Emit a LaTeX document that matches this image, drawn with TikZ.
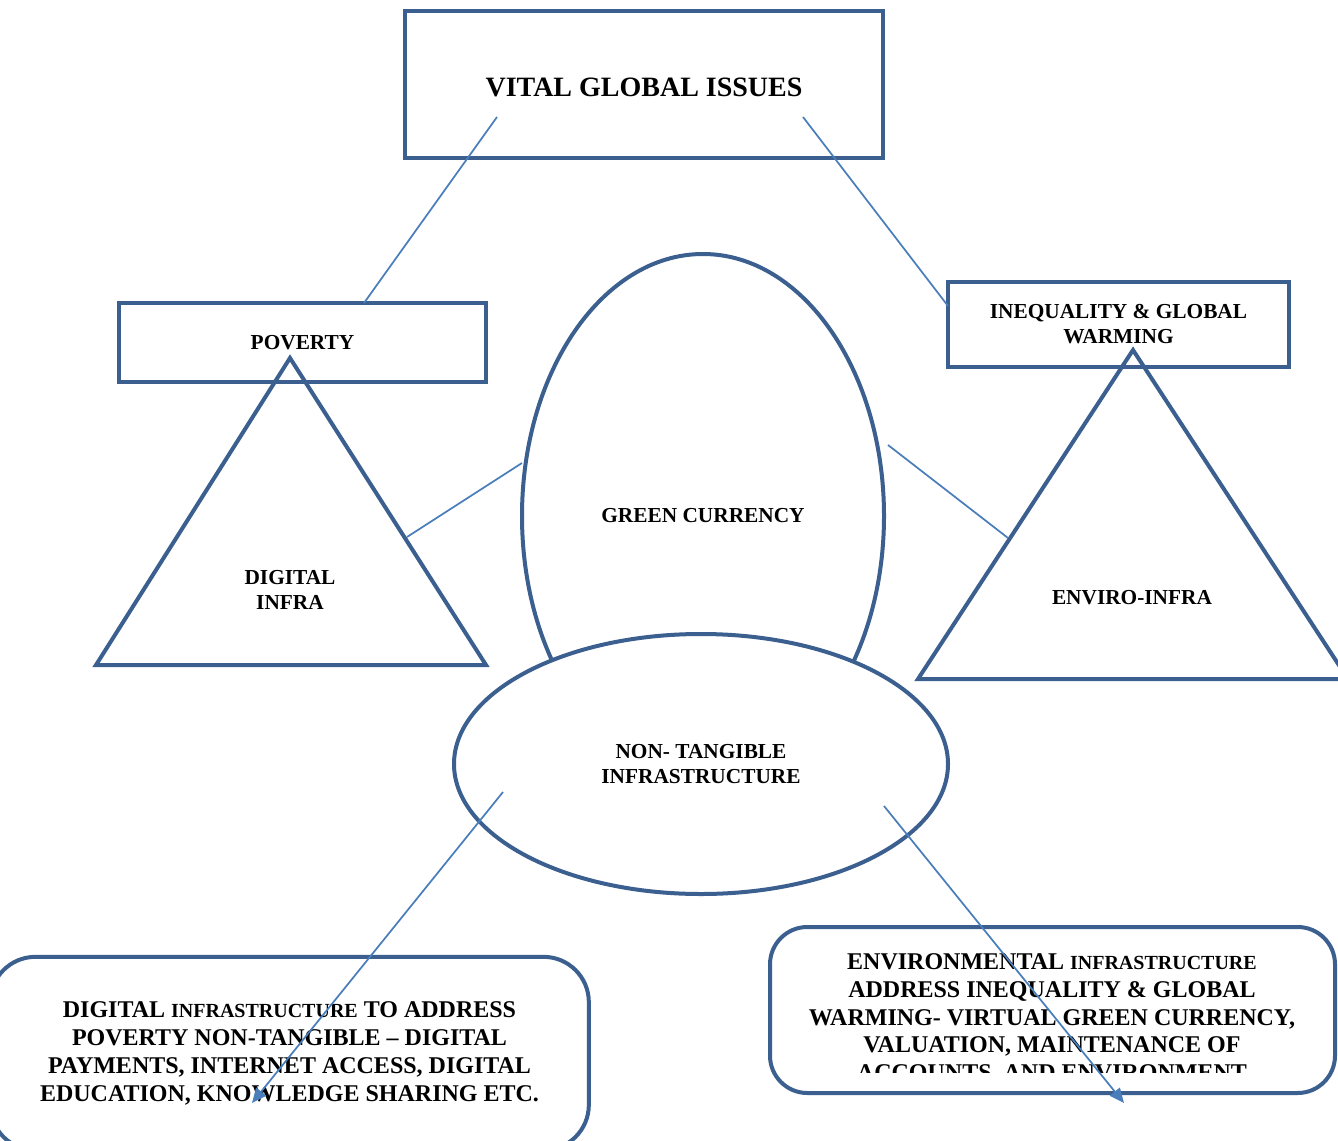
\documentclass[tikz,border=0pt]{standalone}
\usepackage{fontspec}
\setmainfont{Liberation Serif}
\usetikzlibrary{arrows.meta,shapes.geometric}
\definecolor{boxblue}{HTML}{3B5F8F}
\definecolor{linkblue}{HTML}{4A7EBB}

\begin{document}
\begin{tikzpicture}[x=0.75pt,y=-0.75pt,
    outline/.style={draw=boxblue,line width=3pt},
    link/.style={draw=linkblue,line width=1.3pt},
    lbl/.style={font=\bfseries\fontsize{16}{18.75}\selectfont,align=center},
    big/.style={font=\bfseries\fontsize{18}{20.8}\selectfont,align=center}]
    \useasboundingbox (0,0) rectangle (1338,1141);

    \node[outline,lbl,font=\bfseries\fontsize{21}{25}\selectfont,text height=18pt,text depth=0pt,minimum width=358.5pt,minimum height=110.25pt] (vital) at (644,84.5) {VITAL GLOBAL ISSUES};
    \node[outline,lbl,minimum width=275.25pt,minimum height=59.25pt] (poverty) at (302.5,342.5) {POVERTY};
    \node[outline,lbl,minimum width=255.75pt,minimum height=63.75pt] (inequality) at (1118.5,324.5) {INEQUALITY \& GLOBAL\\WARMING};

    \draw[outline] (96,665) -- (290,358) -- (486,665) -- cycle;
    \node[lbl] (digital) at (290,590) {DIGITAL\\INFRA};
    \draw[outline] (918,679) -- (1133,350) -- (1348,679) -- cycle;
    \node[lbl] (enviro) at (1132,598) {ENVIRO-INFRA};

    \node[outline,lbl,ellipse,inner sep=0pt,minimum width=271.5pt,minimum height=393pt] (green) at (703,516) {GREEN CURRENCY};
    \node[outline,lbl,ellipse,fill=white,inner sep=0pt,minimum width=370.5pt,minimum height=195pt] (nontangible) at (701,764) {NON- TANGIBLE\\INFRASTRUCTURE};

    \node[outline,big,rounded corners=34pt,minimum width=449pt,minimum height=145pt] (digitalbox) at (289.5,1053.5) {DIGITAL {\fontsize{15}{20.8}\selectfont INFRASTRUCTURE} TO ADDRESS\\POVERTY NON-TANGIBLE -- DIGITAL\\PAYMENTS, INTERNET ACCESS, DIGITAL\\EDUCATION, KNOWLEDGE SHARING ETC.};
    \node[outline,rounded corners=28pt,minimum width=423.75pt,minimum height=124.5pt] (envirobox) at (1052.5,1010) {};
    \begin{scope}
        \clip (772,930) rectangle (1333,1072);
        \node[big] (envirotext) at (1052,1019) {ENVIRONMENTAL {\fontsize{15}{20.8}\selectfont INFRASTRUCTURE}\\ADDRESS INEQUALITY \& GLOBAL\\WARMING- VIRTUAL GREEN CURRENCY,\\VALUATION, MAINTENANCE OF\\ACCOUNTS, AND ENVIRONMENT};
    \end{scope}

    \coordinate (v1) at (497,117); \coordinate (p1) at (364,303);
    \coordinate (v2) at (803,117); \coordinate (i1) at (948,306);
    \coordinate (g1) at (522,463); \coordinate (d1) at (407,537);
    \coordinate (g2) at (888,445); \coordinate (e1) at (1008,538);
    \coordinate (n1) at (503,792); \coordinate (b1) at (252,1103);
    \coordinate (n2) at (884,806); \coordinate (b2) at (1124,1103);

    \draw[link] (v1) -- (p1);
    \draw[link] (v2) -- (i1);
    \draw[link] (g1) -- (d1);
    \draw[link] (g2) -- (e1);
    \draw[link,-{Triangle[length=11pt,width=9.5pt]}] (n1) -- (b1);
    \draw[link,-{Triangle[length=11pt,width=9.5pt]}] (n2) -- (b2);
\end{tikzpicture}
\end{document}
